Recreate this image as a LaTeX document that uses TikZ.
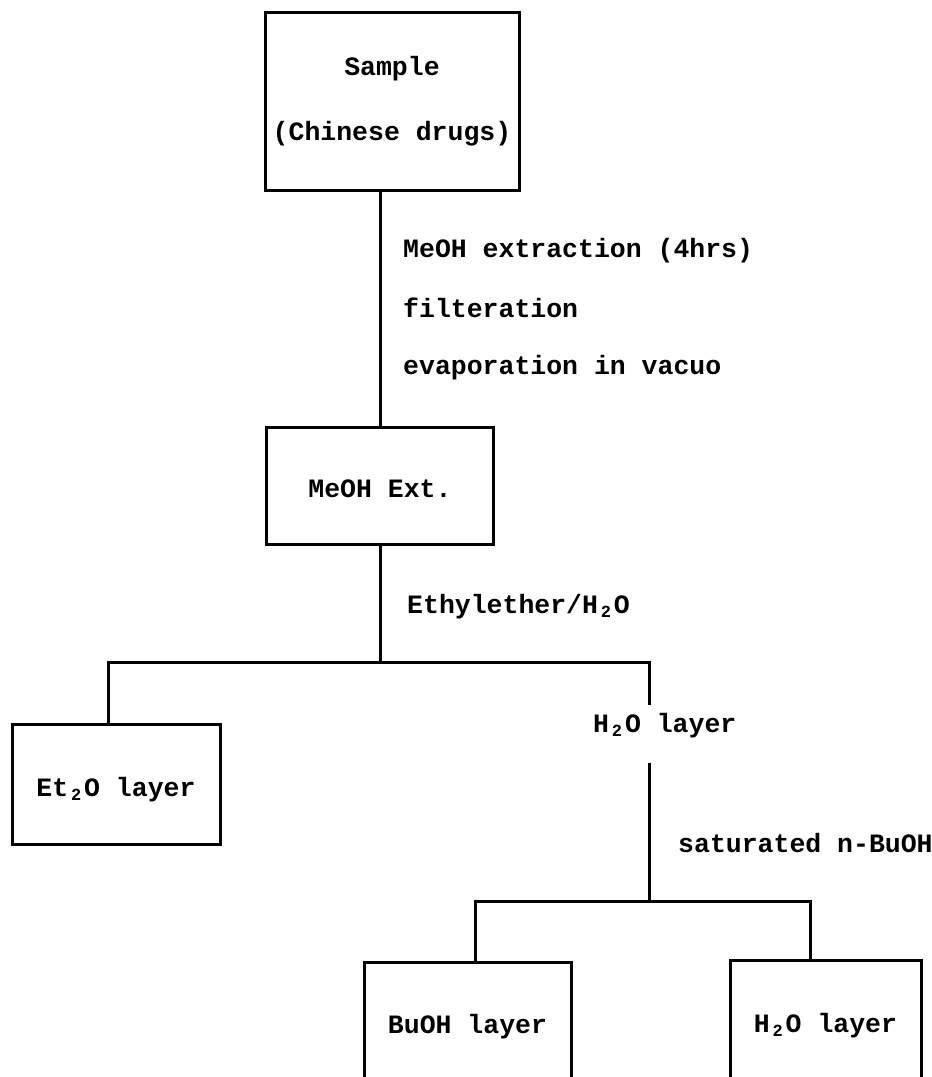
\documentclass[tikz,border=0pt]{standalone}
\usepackage{fontspec}
\setmainfont{Liberation Mono}
\newcommand{\subtwo}{\makebox[0.6em]{\raisebox{-0.3ex}{\fontsize{17}{17}\selectfont 2}}}
\begin{document}
\begin{tikzpicture}[x=1pt,y=-1pt,
  txt/.style={font=\fontsize{26.5}{65}\selectfont\bfseries, inner sep=0pt},
  box/.style={txt, draw, line width=3pt, text height=30pt, text depth=6pt},
  conn/.style={line width=3pt}]
\useasboundingbox (0,0) rectangle (932,1077);
\clip (0,0) rectangle (932,1077);
% boxes
\node[box, text height=, text depth=, align=center, minimum width=254pt, minimum height=178pt] (sample) at (392,101) {Sample\hspace{0.7em}\\(Chinese drugs)};
\node[box, minimum width=227pt, minimum height=117pt] (meoh) at (380,485.5) {MeOH Ext.\hspace{0.2em}};
\node[box, minimum width=208pt, minimum height=120pt] (et2o) at (116,784) {Et\subtwo O layer};
\node[box, minimum width=207pt, minimum height=118pt] (buoh) at (467.5,1021) {BuOH layer};
\node[box, minimum width=191pt, minimum height=120pt] (h2ob) at (825.5,1020) {H\subtwo O layer};
% labels
\node[txt, anchor=base west] (l1) at (403,257) {MeOH extraction (4hrs)};
\node[txt, anchor=base west] (l2) at (403,317) {filteration};
\node[txt, anchor=base west] (l3) at (403,374) {evaporation in vacuo};
\node[txt, anchor=base west] (l4) at (407,613) {Ethylether/H\subtwo O};
\node[txt, anchor=base west] (h2oa) at (593,732) {H\subtwo O layer};
\node[txt, anchor=base west] (l5) at (678,852) {saturated n-BuOH};
% junction coordinates
\coordinate (b1l) at (108,662);
\coordinate (b1r) at (649,662);
\coordinate (h2otop) at (649,705);
\coordinate (h2obot) at (649,763);
\coordinate (b2l) at (475,901);
\coordinate (b2r) at (810,901);
% connectors
\draw[conn] (sample.south -| meoh.north) -- (meoh.north);
\draw[conn] (meoh.south) -- (meoh.south |- b1l);
\draw[conn] (b1l |- et2o.north) -- (b1l) -- (b1r) -- (h2otop);
\draw[conn] (h2obot) -- (h2obot |- b2l);
\draw[conn] (b2l |- buoh.north) -- (b2l) -- (b2r) -- (b2r |- h2ob.north);
\end{tikzpicture}
\end{document}
